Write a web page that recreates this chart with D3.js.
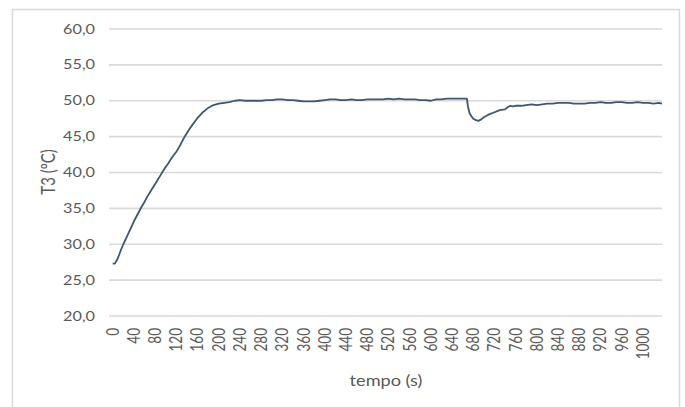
<!DOCTYPE html>
<html><head><meta charset="utf-8">
<script src="https://cdn.jsdelivr.net/npm/d3@7"></script>
<style>body{margin:0;background:#fff}svg{display:block}text{font-family:Lato,"Open Sans",sans-serif}</style>
</head><body><svg id="c" width="685" height="407"></svg>
<script>
const time = [0,4,8,12,16,20,25,30,35,40,45,50,55,60,65,70,75,80,85,90,95,100,105,110,115,120,125,130,135,140,145,150,155,160,165,170,175,180,185,190,195,200,210,220,230,240,250,260,270,280,290,300,310,320,330,340,350,360,370,380,390,400,410,420,430,440,450,460,470,480,490,500,510,520,530,540,550,560,570,580,590,600,610,620,630,640,650,660,668,670,673,676,680,685,690,695,700,705,710,720,730,740,745,750,755,760,770,780,790,800,810,820,830,840,850,860,870,880,890,900,910,920,930,940,950,960,970,980,990,1000,1010,1020,1030,1036];
const T3 = [27.3,27.3,27.8,28.5,29.3,30.0,30.8,31.6,32.4,33.2,33.9,34.6,35.3,35.9,36.6,37.2,37.8,38.4,39.0,39.6,40.2,40.8,41.3,41.9,42.4,42.9,43.5,44.2,44.9,45.5,46.1,46.6,47.1,47.6,48.0,48.4,48.7,49.0,49.2,49.4,49.5,49.6,49.7,49.8,50.0,50.1,50.0,50.0,50.0,50.0,50.1,50.1,50.2,50.2,50.1,50.1,50.0,49.9,49.9,49.9,50.0,50.1,50.2,50.2,50.1,50.1,50.2,50.1,50.1,50.2,50.2,50.2,50.2,50.3,50.2,50.3,50.2,50.2,50.2,50.1,50.1,50.0,50.2,50.2,50.3,50.3,50.3,50.3,50.3,49.2,48.3,47.9,47.5,47.3,47.2,47.4,47.7,47.9,48.1,48.4,48.7,48.8,49.1,49.3,49.2,49.3,49.3,49.4,49.5,49.4,49.5,49.6,49.6,49.7,49.7,49.7,49.6,49.6,49.6,49.7,49.7,49.8,49.7,49.7,49.8,49.8,49.7,49.7,49.8,49.7,49.7,49.6,49.7,49.6];
const yTicks = [20,25,30,35,40,45,50,55,60];
const xTicks = d3.range(0,1001,40);

const svg = d3.select("#c");
svg.append("rect").attr("x",12.5).attr("y",9.5).attr("width",667).attr("height",410)
  .attr("fill","#fff").attr("stroke","#d9d9d9").attr("stroke-width",1.5);

const x = d3.scaleLinear().domain([-7,1036]).range([109,662]);
const y = d3.scaleLinear().domain([20,60]).range([316,29]);

svg.append("g").selectAll("line").data(yTicks).join("line")
  .attr("x1",109).attr("x2",662).attr("y1",d=>y(d)).attr("y2",d=>y(d))
  .attr("stroke","#d9d9d9").attr("stroke-width",1.6);

const fmt = d => d.toFixed(1).replace(".",",");
svg.append("g").selectAll("text").data(yTicks).join("text")
  .attr("transform",d=>`translate(95,${y(d)}) scale(1.25,1)`)
  .attr("dy","0.35em").attr("text-anchor","end")
  .attr("font-size",13).attr("fill","#595959").text(fmt);

svg.append("g").selectAll("text").data(xTicks).join("text")
  .attr("transform",d=>`translate(${x(d)},328) rotate(-90) scale(1,1.25)`)
  .attr("dy","0.35em").attr("text-anchor","end")
  .attr("font-size",13.5).attr("fill","#595959").text(d=>d);

const data = time.map((t,i)=>({t, v:T3[i]}));
svg.append("path").datum(data)
  .attr("fill","none").attr("stroke","#3f5571").attr("stroke-width",1.8)
  .attr("stroke-linejoin","round")
  .attr("d", d3.line().x(d=>x(d.t)).y(d=>y(d.v)));

svg.append("text").attr("transform","translate(48,172) rotate(-90) scale(1,1.25)")
  .attr("text-anchor","middle").attr("dy","0.35em")
  .attr("font-size",15).attr("fill","#595959").text("T3 (ºC)");
svg.append("text").attr("transform","translate(386,386) scale(1.25,1)").attr("text-anchor","middle")
  .attr("font-size",14.5).attr("fill","#595959").text("tempo (s)");
</script></body></html>
